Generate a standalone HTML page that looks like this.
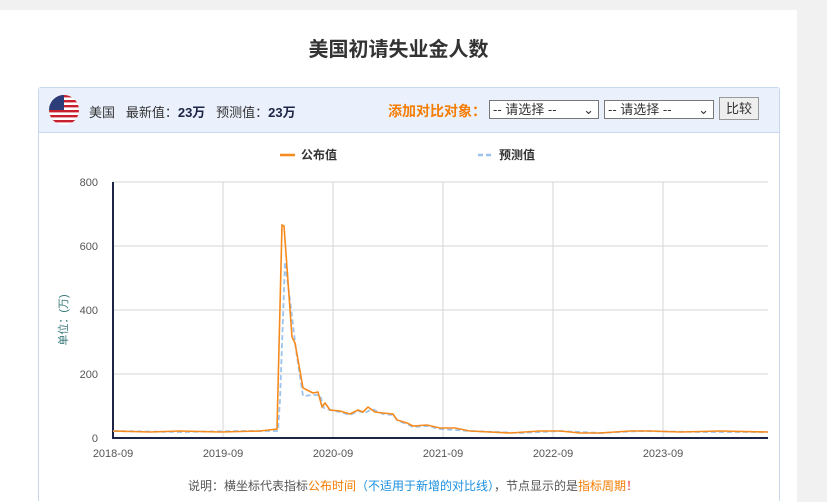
<!DOCTYPE html>
<html><head><meta charset="utf-8"><style>
html,body{margin:0;width:827px;height:502px;background:#f1f1f1;overflow:hidden;font-family:"Liberation Sans","Noto Sans CJK SC",sans-serif;}
.card{position:absolute;left:0;top:10px;width:797px;height:492px;background:#fff;}
h1{position:absolute;top:33px;left:0;width:797px;text-align:center;margin:0;font-size:20px;font-weight:bold;color:#333;}
.panel{position:absolute;left:38px;top:87px;width:740px;height:413px;border:1px solid #c9d8ee;border-bottom:none;border-radius:3px 3px 0 0;}
.hd{height:44px;background:#eaf1fc;border-bottom:1px solid #c9d8ee;position:relative;font-size:13px;color:#333;}
.sel{position:absolute;top:12px;height:19px;border:1px solid #777;background:#fff;font-size:13px;box-sizing:border-box;padding-left:3px;line-height:17px;}
</style></head><body>
<div class="card"></div>
<h1>美国初请失业金人数</h1>
<div class="panel"><div class="hd">
<svg style="position:absolute;left:9px;top:6px" width="32" height="32"><defs><clipPath id="c"><circle cx="16" cy="16" r="15"/></clipPath></defs><g clip-path="url(#c)"><rect width="32" height="32" fill="#fff"/><g fill="#c8202f"><rect y="1" width="32" height="2.4"/><rect y="6" width="32" height="2.4"/><rect y="11" width="32" height="2.4"/><rect y="16" width="32" height="2.4"/><rect y="21" width="32" height="2.4"/><rect y="26" width="32" height="2.4"/></g><rect width="16" height="16" fill="#2c3e7a"/></g></svg>
<span style="position:absolute;left:50px;top:14px">美国&nbsp;&nbsp; 最新值：<b style="color:#1c2545">23万</b>&nbsp;&nbsp; 预测值：<b style="color:#1c2545">23万</b></span>
<span style="position:absolute;left:349px;top:13px;color:#f57c00;font-weight:bold;font-size:14px">添加对比对象：</span>
<div class="sel" style="left:450px;width:110px">-- 请选择 --<span style="float:right;margin-right:4px">⌄</span></div>
<div class="sel" style="left:565px;width:110px">-- 请选择 --<span style="float:right;margin-right:4px">⌄</span></div>
<div class="sel" style="left:680px;top:9px;height:23px;width:40px;background:#eee;border-color:#999;line-height:21px;text-align:center;padding:0">比较</div>
</div></div>
<svg style="position:absolute;left:0;top:0" width="827" height="502" font-family="Liberation Sans, Noto Sans CJK SC, sans-serif">
<g stroke="#d5d5d5" stroke-width="1">
<line x1="113" y1="182" x2="768" y2="182"/><line x1="113" y1="246" x2="768" y2="246"/><line x1="113" y1="310" x2="768" y2="310"/><line x1="113" y1="374" x2="768" y2="374"/>
<line x1="223" y1="182" x2="223" y2="438"/><line x1="333" y1="182" x2="333" y2="438"/><line x1="443" y1="182" x2="443" y2="438"/><line x1="553" y1="182" x2="553" y2="438"/><line x1="663" y1="182" x2="663" y2="438"/>
</g>
<line x1="113" y1="182" x2="113" y2="439" stroke="#1c2545" stroke-width="2"/>
<line x1="112" y1="438" x2="768" y2="438" stroke="#1c2545" stroke-width="2"/>
<g font-size="11" fill="#555" text-anchor="end"><text x="98" y="186">800</text><text x="98" y="250">600</text><text x="98" y="314">400</text><text x="98" y="378">200</text><text x="98" y="442">0</text></g>
<g font-size="11" fill="#555" text-anchor="middle"><text x="113" y="457">2018-09</text><text x="223" y="457">2019-09</text><text x="333" y="457">2020-09</text><text x="443" y="457">2021-09</text><text x="553" y="457">2022-09</text><text x="663" y="457">2023-09</text></g>
<text transform="translate(67,320) rotate(-90)" font-size="11" fill="#3a7a7a" text-anchor="middle">单位：(万)</text>
<line x1="280" y1="155" x2="295" y2="155" stroke="#f68a1e" stroke-width="2.5"/><text x="301" y="159" font-size="12" font-weight="bold" fill="#333">公布值</text>
<line x1="478" y1="155" x2="493" y2="155" stroke="#9cc3ec" stroke-width="2.5" stroke-dasharray="5,3"/><text x="499" y="159" font-size="12" font-weight="bold" fill="#333">预测值</text>
<polyline fill="none" stroke="#9cc3ec" stroke-width="1.8" stroke-dasharray="5,3" points="113,431 180,432 240,431 278,431 280,400 285,262 290,300 296,350 303,396 313,395 320,395 324,408 330,410 340,412 350,415 358,411 365,413 372,409 383,414 393,415 398,421 407,424 413,427 427,426 440,429 470,431 520,433 560,431 600,433 640,431 700,432 768,432"/>
<polyline fill="none" stroke="#f68a1e" stroke-width="1.6" points="113,431 150,432 180,431 220,432 260,431 277,429 282,225 284,226 292,337 295,343 303,388 313,393 318,392 322,407 325,403 330,410 340,411 350,414 358,410 363,412 368,407 375,412 383,413 393,414 397,420 407,423 413,426 427,425 440,428 455,428 470,431 490,432 510,433 540,431 560,431 580,433 600,433 630,431 650,431 680,432 720,431 768,432"/>
<text x="413" y="490" font-size="12" text-anchor="middle" fill="#555">说明：横坐标代表指标<tspan fill="#f57c00">公布时间</tspan><tspan fill="#1a8fe0">（不适用于新增的对比线）</tspan>，节点显示的是<tspan fill="#f57c00">指标周期</tspan><tspan fill="#e33">！</tspan></text>
</svg>
</body></html>
